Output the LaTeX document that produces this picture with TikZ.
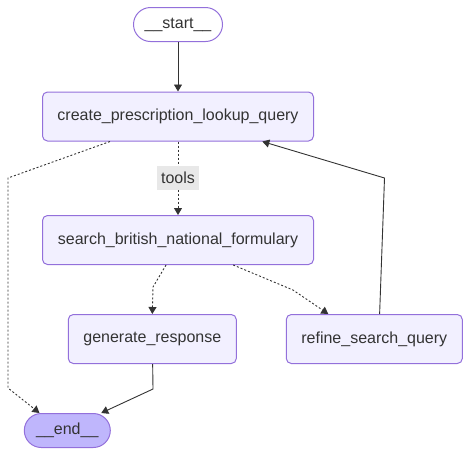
\documentclass[tikz,border=0pt]{standalone}
\usepackage{fontspec}
\setmainfont{Liberation Sans}
\usetikzlibrary{arrows.meta,calc}
\definecolor{nodefill}{HTML}{F2F0FF}
\definecolor{nodeline}{HTML}{9370DB}
\definecolor{endfill}{HTML}{BFB6FC}
\definecolor{ink}{HTML}{333333}
\definecolor{labelfill}{HTML}{E8E8E8}
\begin{document}
\begin{tikzpicture}[x=1pt, y=-1pt, font=\fontsize{16}{19}\selectfont, text=ink,
  state/.style={draw=nodeline, fill=nodefill, line width=1pt, rounded corners=5pt, minimum height=49pt, inner sep=0pt},
  term/.style={draw=nodeline, line width=1pt, rounded corners=17pt, minimum height=34pt, inner sep=0pt},
  solidedge/.style={-{Triangle[length=7pt,width=8pt]}, draw=ink, line width=0.9pt},
  dotedge/.style={-{Triangle[length=7pt,width=8pt]}, draw=ink, line width=0.9pt, dash pattern=on 2pt off 2pt}]
\useasboundingbox (0,0) rectangle (470,456);
\node[term, fill=white, minimum width=89pt] (start) at (178,24.5) {\_\_start\_\_};
\node[state, minimum width=271pt] (create) at (178,116.5) {create\_prescription\_lookup\_query};
\node[state, minimum width=271pt] (search) at (178,240) {search\_british\_national\_formulary};
\node[state, minimum width=168pt] (generate) at (152.3,339) {generate\_response};
\node[state, minimum width=176pt] (refine) at (374.3,339) {refine\_search\_query};
\node[term, fill=endfill, minimum width=86pt] (end) at (67.3,430.5) {\_\_end\_\_};
\coordinate (c1) at (8,178);
\coordinate (c2) at (8,388);
\coordinate (c3) at (153,287);
\coordinate (c4) at (293,290);
\coordinate (c5) at (384.5,178);
\coordinate (c6) at (153,389);
\path [solidedge] (start) -- (create);
\path [dotedge] (create) -- node[fill=labelfill, text=ink, minimum width=42pt, minimum height=24pt, inner sep=0pt] {tools} (search);
\path [dotedge] ($(create.south west)!0.25!(create.south east)$) -- (c1) -- (c2) -- ($(end.north west)!0.18!(end.north east)$);
\path [dotedge] ($(search.south west)!0.456!(search.south east)$) -- (c3) -- (generate.north);
\path [dotedge] ($(search.south west)!0.703!(search.south east)$) -- (c4) -- ($(refine.north west)!0.24!(refine.north east)$);
\path [solidedge] ($(refine.north west)!0.53!(refine.north east)$) -- (c5) -- ($(create.south west)!0.81!(create.south east)$);
\path [solidedge] (generate) -- (c6) -- ($(end.north west)!0.89!(end.north east)$);
\end{tikzpicture}
\end{document}
